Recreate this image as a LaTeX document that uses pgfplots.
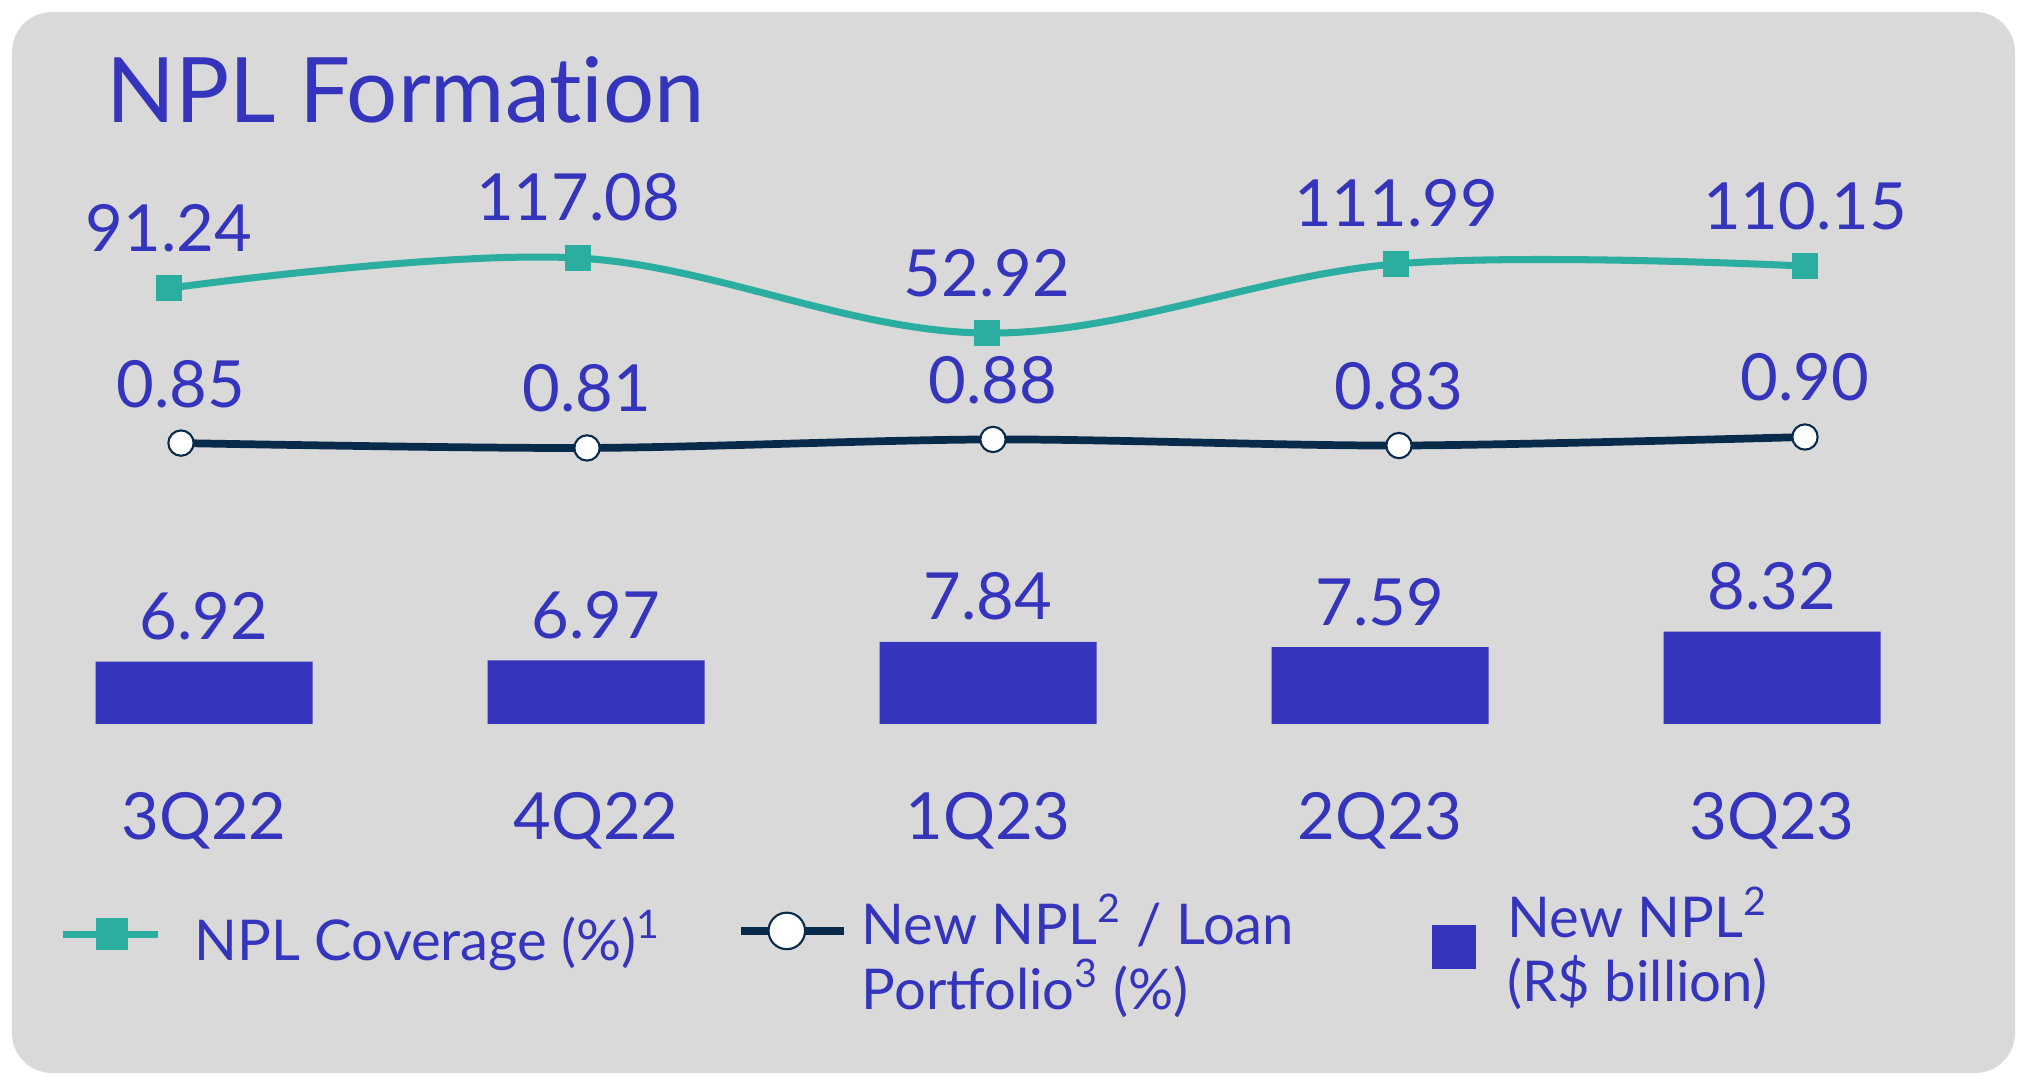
\documentclass[border=0pt]{standalone}
\usepackage{pgfplots}
\pgfplotsset{compat=1.18}
\usepackage{fontspec}
\setmainfont{Lato}
\definecolor{panelgray}{HTML}{D9D9D9}
\definecolor{nplblue}{HTML}{3434BC}
\definecolor{nplteal}{HTML}{2BAE9F}
\definecolor{nplnavy}{HTML}{082A4B}
\newcommand{\lblfont}{\fontsize{18.5}{22}\selectfont}
\newcommand{\legfont}{\fontsize{16}{18.4}\selectfont}
\begin{document}
\begin{tikzpicture}
\path[use as bounding box] (0,0) rectangle (20.23,10.80);
\fill[panelgray, rounded corners=0.4cm] (0.12,0.07) rectangle (20.15,10.68);
\node[anchor=base west, text=nplblue, font=\fontsize{25.7}{30}\selectfont, inner sep=0pt] at (1.06,9.57) {NPL Format\kern0pt ion};

% New NPL, R$ billion (bars)
\begin{axis}[
    at={(0.08cm,3.56cm)}, anchor=south west, scale only axis,
    width=19.60cm, height=1.712cm,
    xmin=-0.5, xmax=4.5, ymin=4, ymax=12,
    axis line style={draw=none}, major tick length=0, ytick=\empty,
    xtick={0,1,2,3,4}, xticklabels={3Q22,4Q22,1Q23,2Q23,3Q23},
    xticklabel style={anchor=base, yshift=-1.16cm, text=nplblue, font=\lblfont},
    legend cell align=left,
    legend style={at={(axis description cs:0.726,-1.3026)}, anchor=west,
        draw=none, fill=none, inner sep=0pt, column sep=0.25cm,
        text=nplblue, font=\legfont, cells={align=left}},
    legend image code/.code={\fill[nplblue] (0cm,-0.22cm) rectangle (0.44cm,0.22cm);},
]
\addplot[ybar, bar width=2.17cm, fill=nplblue, draw=none,
    point meta=explicit symbolic, nodes near coords,
    every node near coord/.append style={anchor=base, yshift=0.22cm, text=nplblue, font=\lblfont}]
    coordinates {(0,6.92) [6.92] (1,6.97) [6.97] (2,7.84) [7.84] (3,7.59) [7.59] (4,8.32) [8.32]};
\addlegendentry{New NPL\textsuperscript{2}\\(R\$ billion)}
\end{axis}

% NPL coverage (%)
\begin{axis}[
    at={(1.69cm,7.318cm)}, anchor=south west, scale only axis,
    width=16.36cm, height=1.053cm,
    xmin=0, xmax=4, ymin=40, ymax=130,
    hide axis, clip=false,
    legend cell align=left,
    legend style={at={(axis description cs:-0.0672,-5.601)}, anchor=west,
        draw=none, fill=none, inner sep=0pt, column sep=0.26cm,
        text=nplblue, font=\legfont},
    legend image code/.code={
        \draw[#1, line width=0.07cm] (0cm,0.04cm) -- (0.95cm,0.04cm);
        \draw[#1, mark size=4.3pt] plot coordinates {(0.49cm,0.04cm)};},
]
\addplot[color=nplteal, line width=2pt, smooth, tension=0.6,
    mark=square*, mark size=3.5pt, mark options={solid, line width=0.4pt},
    point meta=explicit symbolic, nodes near coords,
    every node near coord/.append style={anchor=base, yshift=0.37cm, text=nplblue, font=\lblfont}]
    coordinates {(0,91.24) [91.24] (1,117.08) [117.08] (2,52.92) [52.92] (3,111.99) [111.99] (4,110.15) [110.15]};
\addlegendentry{NPL Coverage (\%)\textsuperscript{1}}
\end{axis}

% New NPL / loan portfolio (%)
\begin{axis}[
    at={(1.81cm,6.186cm)}, anchor=south west, scale only axis,
    width=16.24cm, height=0.366cm,
    xmin=0, xmax=4, ymin=0.7, ymax=1.0,
    hide axis, clip=false,
    legend cell align=left,
    legend style={at={(axis description cs:0.3418,-13.47)}, anchor=west,
        draw=none, fill=none, inner sep=0pt, column sep=0.07cm,
        text=nplblue, font=\legfont, cells={align=left}},
    legend image code/.code={
        \draw[#1, line width=0.08cm] (0cm,0.235cm) -- (1.03cm,0.235cm);
        \draw[#1, mark size=5.2pt] plot coordinates {(0.46cm,0.235cm)};},
]
\addplot[color=nplnavy, line width=2.2pt, smooth,
    mark=*, mark size=3.6pt, mark options={fill=white, draw=nplnavy, line width=0.6pt},
    point meta=explicit symbolic, nodes near coords,
    every node near coord/.append style={anchor=base, yshift=0.36cm, text=nplblue, font=\lblfont}]
    coordinates {(0,0.85) [0.85] (1,0.81) [0.81] (2,0.88) [0.88] (3,0.83) [0.83] (4,0.90) [0.90]};
\addlegendentry{New NPL\textsuperscript{2} / Loan\\Portfolio\textsuperscript{3} (\%)}
\end{axis}
\end{tikzpicture}
\end{document}
